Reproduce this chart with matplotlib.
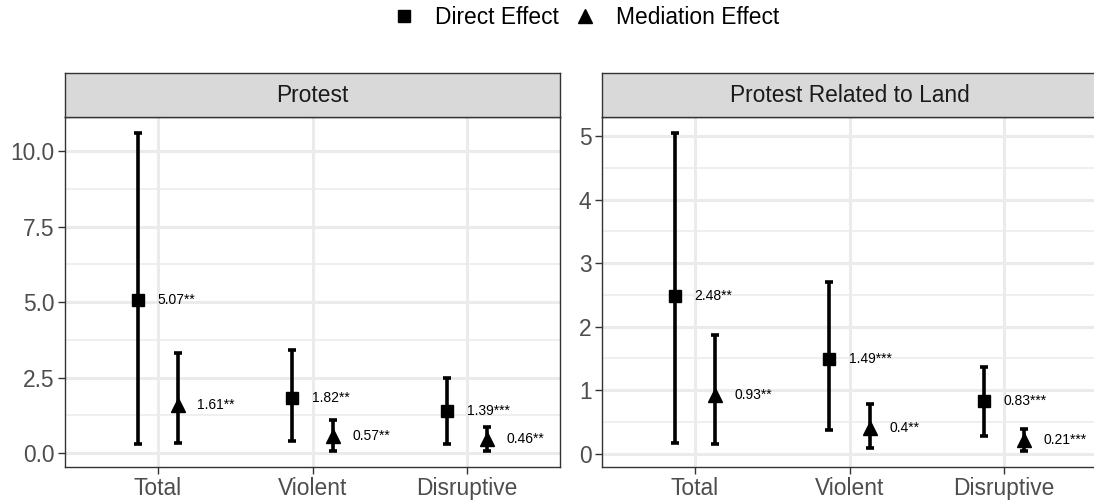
import matplotlib
matplotlib.use("Agg")
import matplotlib.pyplot as plt
from matplotlib.lines import Line2D
import numpy as np

plt.rcParams['font.family'] = ['Liberation Sans', 'DejaVu Sans']

categories = ["Total", "Violent", "Disruptive"]
panels = ["Protest", "Protest Related to Land"]

# Protest
protest_direct = [5.07, 1.82, 1.39]
protest_direct_lo = [0.32, 0.40, 0.31]
protest_direct_hi = [10.60, 3.43, 2.48]
protest_direct_lab = ["5.07**", "1.82**", "1.39***"]
protest_med = [1.61, 0.57, 0.46]
protest_med_lo = [0.34, 0.08, 0.07]
protest_med_hi = [3.32, 1.10, 0.87]
protest_med_lab = ["1.61**", "0.57**", "0.46**"]

# Protest related to land
land_direct = [2.48, 1.49, 0.83]
land_direct_lo = [0.17, 0.37, 0.27]
land_direct_hi = [5.05, 2.70, 1.37]
land_direct_lab = ["2.48**", "1.49***", "0.83***"]
land_med = [0.93, 0.40, 0.21]
land_med_lo = [0.15, 0.09, 0.04]
land_med_hi = [1.87, 0.78, 0.39]
land_med_lab = ["0.93**", "0.4**", "0.21***"]

data = [
    (protest_direct, protest_direct_lo, protest_direct_hi, protest_direct_lab,
     protest_med, protest_med_lo, protest_med_hi, protest_med_lab, [0, 2.5, 5.0, 7.5, 10.0], "{:.1f}"),
    (land_direct, land_direct_lo, land_direct_hi, land_direct_lab,
     land_med, land_med_lo, land_med_hi, land_med_lab, [0, 1, 2, 3, 4, 5], "{:.0f}"),
]

W, H = 1094, 503
fig = plt.figure(figsize=(W / 100, H / 100), dpi=100)

grid_col = "#EBEBEB"
dark = "#333333"
txt = "#4D4D4D"
fs = 16.4
dodge = 0.13

lefts = [65, 602]
pw = 495
top, bottom, strip_top = 117, 467, 73

for k, (d, dlo, dhi, dlab, m, mlo, mhi, mlab, ticks, fmt) in enumerate(data):
    ax = fig.add_axes([lefts[k] / W, 1 - bottom / H, pw / W, (bottom - top) / H])
    x = np.arange(1, len(categories) + 1)
    lo_all = min(dlo + mlo)
    hi_all = max(dhi + mhi)
    r = hi_all - lo_all
    ax.set_ylim(lo_all - 0.05 * r, hi_all + 0.05 * r)
    ax.set_xlim(0.4, 3.6)

    # grid
    ax.set_yticks(ticks)
    ax.set_yticklabels([fmt.format(t) for t in ticks])
    step = ticks[1] - ticks[0]
    minors = [t + step / 2 for t in ticks] + [ticks[0] - step / 2]
    for mv in minors:
        ax.axhline(mv, color=grid_col, lw=1.1, zorder=0)
    for t in ticks:
        ax.axhline(t, color=grid_col, lw=2.2, zorder=0)
    for xv in x:
        ax.axvline(xv, color=grid_col, lw=2.2, zorder=0)
    ax.set_xticks(x)
    ax.set_xticklabels(categories)

    ax.errorbar(x - dodge, d, yerr=[np.array(d) - np.array(dlo), np.array(dhi) - np.array(d)],
                fmt='s', color='black', ms=9, lw=2.6, capsize=3.2, capthick=2.6, zorder=3)
    ax.errorbar(x + dodge, m, yerr=[np.array(m) - np.array(mlo), np.array(mhi) - np.array(m)],
                fmt='^', color='black', ms=10.5, lw=2.6, capsize=3.2, capthick=2.6, zorder=3)
    for xi, yi, lab in zip(x - dodge, d, dlab):
        ax.annotate(lab, (xi, yi), xytext=(14, 0), textcoords='offset points',
                    ha='left', va='center', fontsize=10, color='black')
    for xi, yi, lab in zip(x + dodge, m, mlab):
        ax.annotate(lab, (xi, yi), xytext=(14, 0), textcoords='offset points',
                    ha='left', va='center', fontsize=10, color='black')

    for s in ax.spines.values():
        s.set_color(dark)
        s.set_linewidth(1.0)
    ax.tick_params(axis='both', colors=dark, length=5, width=1.0, labelsize=fs,
                   labelcolor=txt, pad=2.5)
    ax.set_axisbelow(True)

    # facet strip
    sx = fig.add_axes([lefts[k] / W, 1 - top / H, pw / W, (top - strip_top) / H])
    sx.set_facecolor("#D9D9D9")
    sx.set_xticks([])
    sx.set_yticks([])
    for s in sx.spines.values():
        s.set_color(dark)
        s.set_linewidth(1.0)
    sx.text(0.5, 0.5, panels[k], ha='center', va='center', fontsize=fs,
            color="#1A1A1A", transform=sx.transAxes)

handles = [
    Line2D([], [], marker='s', color='black', ls='none', ms=9),
    Line2D([], [], marker='^', color='black', ls='none', ms=10.5),
]
fig.legend(handles, ["Direct Effect", "Mediation Effect"], loc='center',
           bbox_to_anchor=(585 / W, 1 - 17 / H), ncol=2, frameon=False, fontsize=fs,
           handlelength=1.2, handletextpad=0.75, columnspacing=0.55, borderpad=0)

fig.savefig("out.png", dpi=100)
